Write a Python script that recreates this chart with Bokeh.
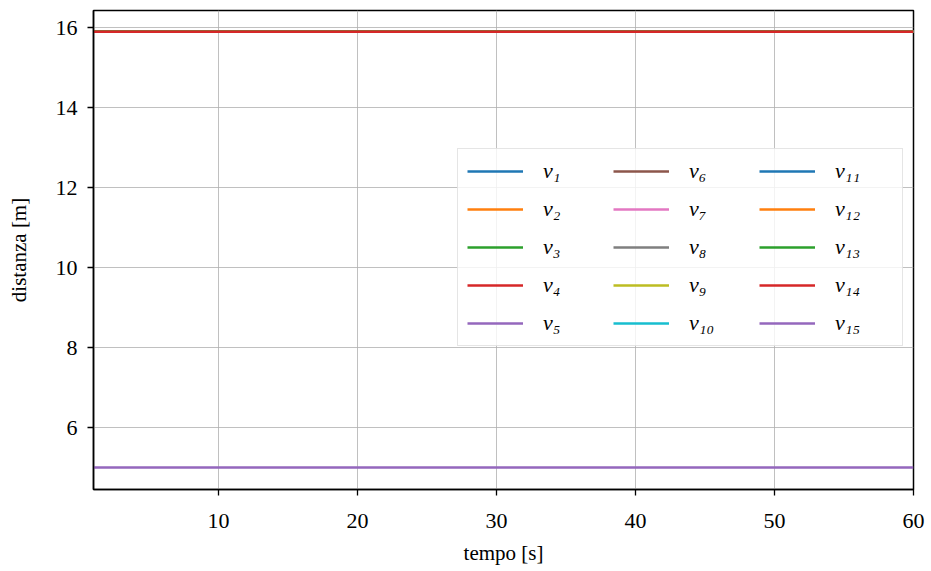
from bokeh.plotting import figure
from bokeh.models import Range1d, FixedTicker, Legend, LegendItem
from bokeh.embed import file_html
from bokeh.resources import INLINE

# time axis, seconds
tempo = list(range(1, 61))

# vehicle labels and their (steady) inter-vehicle distance in metres
veicoli = ["v₁", "v₂", "v₃", "v₄", "v₅", "v₆", "v₇", "v₈", "v₉", "v₁₀",
           "v₁₁", "v₁₂", "v₁₃", "v₁₄", "v₁₅"]
distanza = [15.9, 15.9, 15.9, 15.9, 15.9, 15.9, 15.9, 15.9, 15.9, 15.9,
            15.9, 15.9, 15.9, 15.9, 5.0]

colori = ["#1f77b4", "#ff7f0e", "#2ca02c", "#d62728", "#9467bd",
          "#8c564b", "#e377c2", "#7f7f7f", "#bcbd22", "#17becf",
          "#1f77b4", "#ff7f0e", "#2ca02c", "#d62728", "#9467bd"]

x_ticks = [10, 20, 30, 40, 50, 60]
y_ticks = [6, 8, 10, 12, 14, 16]

FONT = "Liberation Serif"

p = figure(width=931, height=571, output_backend="svg", toolbar_location=None,
           x_range=Range1d(1, 60), y_range=Range1d(4.45, 16.43),
           min_border_left=93, min_border_right=18, min_border_top=10,
           min_border_bottom=82)

items = []
for nome, d, c in zip(veicoli, distanza, colori):
    r = p.line(tempo, [d] * len(tempo), line_color=c, line_width=2.6)
    items.append(LegendItem(label=nome, renderers=[r]))

p.xaxis.ticker = FixedTicker(ticks=x_ticks)
p.yaxis.ticker = FixedTicker(ticks=y_ticks)
p.xaxis.axis_label = "tempo [s]"
p.yaxis.axis_label = "distanza [m]"

for ax in (p.xaxis, p.yaxis):
    ax.axis_label_text_font = FONT
    ax.axis_label_text_font_style = "normal"
    ax.axis_label_text_font_size = "21px"
    ax.axis_label_text_color = "black"
    ax.major_label_text_font = FONT
    ax.major_label_text_font_size = "22px"
    ax.major_label_text_color = "black"
    ax.axis_line_color = "black"
    ax.axis_line_width = 1.5
    ax.major_tick_line_color = "black"
    ax.major_tick_line_width = 1.3
    ax.major_tick_out = 6
    ax.major_tick_in = 0
    ax.minor_tick_line_color = None

p.xaxis.major_label_standoff = 18
p.yaxis.major_label_standoff = 10
p.xaxis.axis_label_standoff = 10
p.yaxis.axis_label_standoff = 22

p.grid.grid_line_color = "#b0b0b0"
p.grid.grid_line_width = 0.8
p.outline_line_color = "black"
p.outline_line_width = 1.5
p.background_fill_color = "white"
p.border_fill_color = "white"

legend = Legend(items=items, location=(364, 143), orientation="vertical",
                nrows=5, ncols=3)
legend.label_text_font = FONT
legend.label_text_font_style = "italic"
legend.label_text_font_size = "22px"
legend.label_text_color = "black"
legend.glyph_width = 56
legend.glyph_height = 20
legend.label_standoff = 20
legend.label_width = 58
legend.spacing = 12
legend.padding = 9
legend.margin = 0
legend.border_line_color = "#cccccc"
legend.border_line_width = 1.5
legend.background_fill_alpha = 0.8
p.add_layout(legend, "center")

open("out.html", "w").write(file_html(p, INLINE))
